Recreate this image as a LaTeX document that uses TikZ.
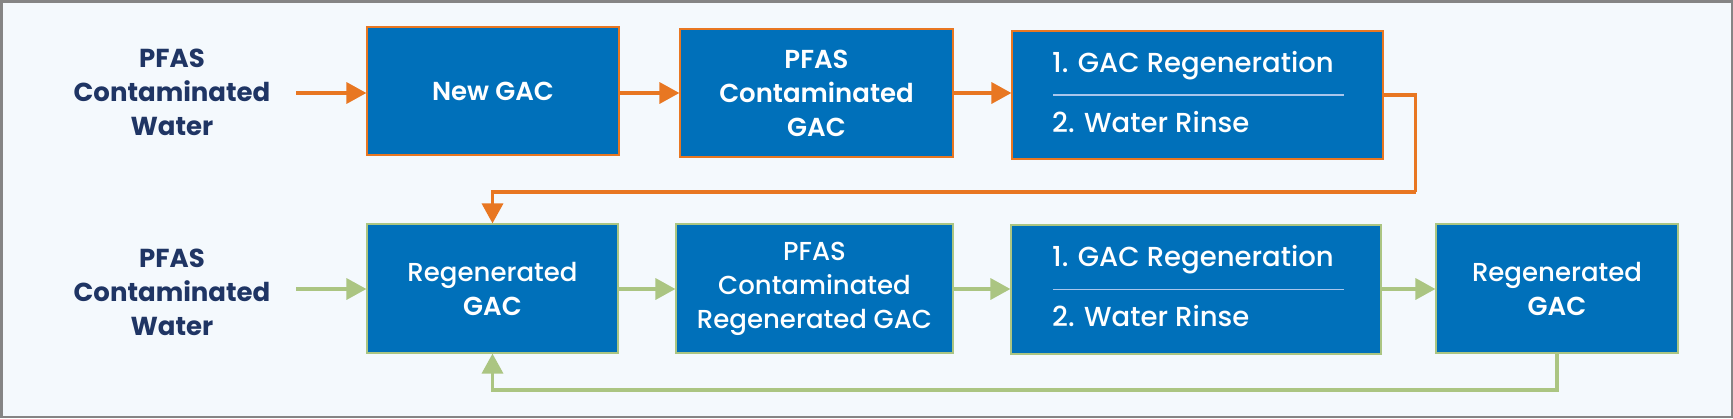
\documentclass[tikz,border=0pt]{standalone}
\usepackage{fontspec}
\setmainfont{Poppins}
\newfontfamily\pmed{Poppins Medium}
\newfontfamily\psemi{Poppins SemiBold}
\usetikzlibrary{arrows.meta}
\definecolor{boxblue}{HTML}{0070BA}
\definecolor{orangec}{HTML}{E87722}
\definecolor{greenc}{HTML}{ABC582}
\definecolor{navy}{HTML}{1F3564}
\definecolor{bgc}{HTML}{F4F9FD}
\definecolor{framec}{HTML}{858585}
\definecolor{divc}{HTML}{A9C6EC}
\tikzset{
  lab/.style={align=center, text=navy, font=\fontsize{26}{34}\selectfont\bfseries, inner sep=0},
  boxbase/.style={rectangle, fill=boxblue, line width=1.2pt, inner sep=0, text=white, align=center,
    font=\fontsize{26}{34}\selectfont\pmed},
  boldbox/.style={font=\fontsize{26}{34}\selectfont\psemi},
  obox/.style={boxbase, draw=orangec},
  gbox/.style={boxbase, draw=greenc},
  steptext/.style={anchor=base west, inner sep=0, text=white, font=\fontsize{27.5}{34}\selectfont\pmed},
  oarr/.style={draw=orangec, line width=3.5pt, -{Triangle[length=20pt,width=21pt]}},
  garr/.style={draw=greenc, line width=3.5pt, -{Triangle[length=20pt,width=21pt]}},
  oline/.style={draw=orangec, line width=3.5pt},
  divider/.style={draw=divc, line width=1.5pt},
}
\begin{document}
\begin{tikzpicture}[x=1pt, y=-1pt]
\useasboundingbox (0,0) rectangle (1733,418);
\draw[draw=framec, fill=bgc, line width=2.5pt] (1.25,1.25) rectangle (1731.75,416.75);

% Row 1
\node[lab] (l1) at (172,92) {PFAS\\Contaminated\\Water};
\node[obox, boldbox, minimum width=252pt, minimum height=128pt] (b1) at (493,91) {New GAC};
\node[obox, boldbox, minimum width=273pt, minimum height=128pt] (b2) at (816.5,93) {PFAS\\Contaminated\\GAC};
\node[obox, minimum width=371pt, minimum height=128pt] (b3) at (1197.5,95) {};
\node[steptext] (t31) at (1052,72) {1. GAC Regeneration};
\node[steptext] (t32) at (1052,132) {2. Water Rinse};
\draw[divider] ([xshift=42pt]b3.west) -- ([xshift=-40pt]b3.east);

% Row 2
\node[lab] (l2) at (172,292) {PFAS\\Contaminated\\Water};
\node[gbox, minimum width=251pt, minimum height=129pt] (b4) at (492.5,288.5) {Regenerated\\{\psemi GAC}};
\node[gbox, minimum width=277pt, minimum height=129pt] (b5) at (814.5,288.5) {PFAS\\Contaminated\\Regenerated GAC};
\node[gbox, minimum width=370pt, minimum height=129pt] (b6) at (1196,289.5) {};
\node[steptext] (t61) at (1052,266) {1. GAC Regeneration};
\node[steptext] (t62) at (1052,326) {2. Water Rinse};
\draw[divider] ([xshift=43pt]b6.west) -- ([xshift=-38pt]b6.east);
\node[gbox, minimum width=242pt, minimum height=129pt] (b7) at (1557,288.5) {Regenerated\\{\psemi GAC}};

% connectors row 1
\coordinate (s1) at (296,93);
\draw[oarr] (s1) -- (b1.west |- s1);
\draw[oarr] (b1.east |- s1) -- (b2.west |- s1);
\draw[oarr] (b2.east |- s1) -- (b3.west |- s1);
\draw[oline] (b3.east) -- ++(32,0) coordinate (c1) -- (c1 |- 0,192) coordinate (c2);
\draw[oarr] (c2) -- (b4.north |- c2) -- (b4.north);

% connectors row 2
\coordinate (s2) at (296,289);
\draw[garr] (s2) -- (b4.west |- s2);
\draw[garr] (b4.east |- s2) -- (b5.west |- s2);
\draw[garr] (b5.east |- s2) -- (b6.west |- s2);
\draw[garr] (b6.east |- s2) -- (b7.west |- s2);
\draw[garr] (b7.south) -- (b7.south |- 0,390) -- (b4.south |- 0,390) -- (b4.south);
\end{tikzpicture}
\end{document}
